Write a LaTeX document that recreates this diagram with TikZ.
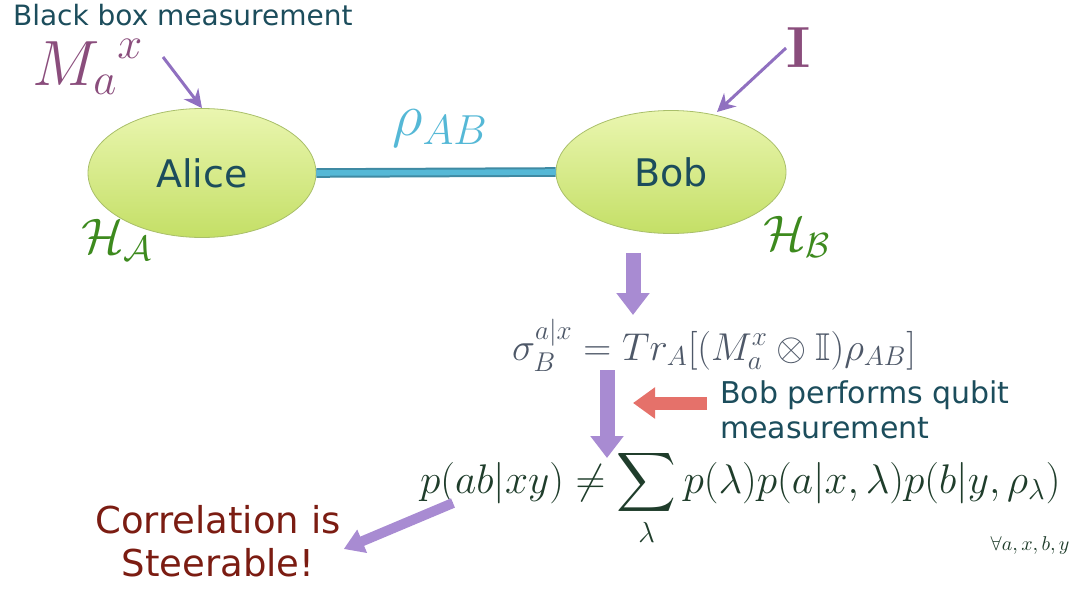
\RequirePackage{fix-cm}
\documentclass[tikz,border=0pt]{standalone}
\usepackage{amsmath}
\usepackage{amssymb}
\usepackage[no-math]{fontspec}
\setmainfont{DejaVu Sans}
\usetikzlibrary{positioning,arrows.meta,shapes.geometric}

\definecolor{tealtxt}{HTML}{1C4D5C}
\definecolor{mauve}{HTML}{8A4D7C}
\definecolor{bondblue}{HTML}{55B8D6}
\definecolor{bondedge}{HTML}{3F8AA3}
\definecolor{hgreen}{HTML}{3D8A1E}
\definecolor{sigmagray}{HTML}{4E5868}
\definecolor{pgreen}{HTML}{1F3D2B}
\definecolor{corrred}{HTML}{7B1C12}
\definecolor{arrpurple}{HTML}{9070C0}
\definecolor{blockpurple}{HTML}{A88BD2}
\definecolor{blockred}{HTML}{E5716A}
\definecolor{ellTop}{HTML}{EAF6B0}
\definecolor{ellBot}{HTML}{C4DF66}
\definecolor{ellEdge}{HTML}{A9BF6A}

\begin{document}
\begin{tikzpicture}[
      x=0.5pt, y=-0.5pt,
      party/.style={ellipse, draw=ellEdge, top color=ellTop,
                    bottom color=ellBot, inner sep=0pt,
                    text=tealtxt, font=\fontsize{19}{22}\selectfont},
      thinarr/.style={arrpurple, line width=1.5pt,
                      -{Stealth[length=9pt, width=9pt]}},
      blockarr/.style={blockpurple, line width=7.5pt,
                       -{Triangle[length=11pt, width=16pt]}},
      notetxt/.style={text=tealtxt, align=left,
                      font=\fontsize{15}{17.5}\selectfont}
    ]
    \useasboundingbox (0,0) rectangle (1076,590);

    % the two parties
    \node[party, minimum width=114pt, minimum height=64.5pt] (alice) at (202,173) {Alice};
    \node[party, minimum width=115pt, minimum height=61.5pt] (bob) at (671,172) {Bob};
    \draw[bondedge, line width=4.8pt] (alice.east) -- (bob.west);
    \draw[bondblue, line width=2.8pt] (alice.east) -- (bob.west);
    \node[text=bondblue, font=\fontsize{30}{34}\selectfont] (rho) at (440,128) {$\rho_{AB}$};
    \node[text=hgreen, font=\fontsize{25}{28}\selectfont] (hA) at (117,240) {$\mathcal{H}_{\mathcal{A}}$};
    \node[text=hgreen, font=\fontsize{25}{28}\selectfont] (hB) at (797,237) {$\mathcal{H}_{\mathcal{B}}$};

    % measurements
    \node[text=tealtxt, anchor=base west, font=\fontsize{14}{16}\selectfont] (black) at (6,25) {Black box measurement};
    \node[text=mauve, inner sep=0pt, font=\fontsize{32}{36}\selectfont] (mlbl) at (88,67) {${M_a}^{x}$};
    \node[text=mauve, font=\fontsize{29}{32}\selectfont] (ilbl) at (799,48) {$\mathbf{I}$};
    \coordinate (mfoot) at (163,57);
    \coordinate (ifoot) at (786,48);
    \draw[thinarr] (mfoot) -- (alice.north);
    \draw[thinarr] (ifoot) -- (717,112);

    % conditional states
    \node[text=sigmagray, anchor=base west, font=\fontsize{19.4}{23}\selectfont] (sigma) at (505,360)
      {$\sigma_B^{a|x} = Tr_A[(M_a^x\otimes\mathbb{I})\rho_{AB}]$};
    \coordinate (d1top) at (633,253);
    \coordinate (d1tip) at (633,315);
    \draw[blockarr] (d1top) -- (d1tip);

    \node[notetxt, anchor=north west] (bobtxt) at (713,374) {Bob performs qubit\\measurement};
    \coordinate (redtip) at (633,403);
    \draw[blockred, line width=6.5pt, -{Triangle[length=11pt, width=15pt]}]
      ([xshift=-3pt]bobtxt.west |- redtip) -- (redtip);

    \coordinate (d2top) at (607,370);
    \coordinate (d2tip) at (607,458);
    \draw[blockarr] (d2top) -- (d2tip);

    % steering inequality
    \node[text=pgreen, anchor=base west, font=\fontsize{20.7}{24}\selectfont] (pform) at (413,493)
      {$p(ab|xy) \neq \displaystyle\sum_{\lambda} p(\lambda)p(a|x,\lambda)p(b|y,\rho_{\lambda})$};
    \node[text=pgreen, anchor=base east, inner sep=0pt, font=\fontsize{10}{12}\selectfont] (forall) at (1070,550)
      {$\forall a,x,b,y$};

    \node[text=corrred, align=center, font=\fontsize{18.5}{21.5}\selectfont] (corr) at (218,541)
      {Correlation is\\Steerable!};
    \coordinate (cstart) at (453,503);
    \draw[blockpurple, line width=5pt, -{Triangle[length=10pt, width=12pt]}]
      (cstart) -- ([xshift=-2pt,yshift=-4pt]corr.east);
  \end{tikzpicture}
\end{document}
